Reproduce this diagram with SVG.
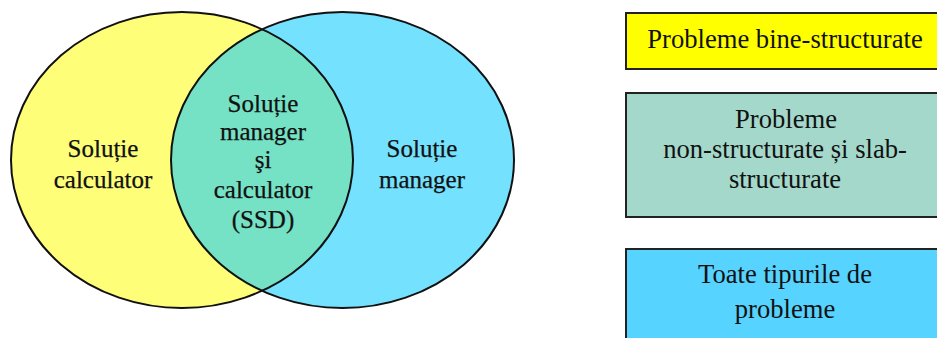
<svg xmlns="http://www.w3.org/2000/svg" width="937" height="338" viewBox="0 0 937 338">
  <style>
    .lbl { font-family: "Liberation Serif", "Times New Roman", serif; fill: #111; text-anchor: middle; }
    .venn { font-size: 25px; stroke: #111; stroke-width: 0.25; }
    .box { font-size: 26.6px; }
    .edge { fill: none; stroke: #111; stroke-width: 2; }
    .rect { stroke: #222; stroke-width: 2; }
  </style>

  <!-- Venn diagram -->
  <g id="calculator">
    <ellipse cx="182" cy="160" rx="171" ry="148" fill="#FEFE78"/>
  </g>
  <g id="manager">
    <ellipse cx="342.5" cy="160" rx="171.5" ry="148" fill="#74E1FE"/>
  </g>
  <g id="ssd">
    <path d="M262,29.3 A171.5,148 0 0 0 262,290.7 A171,148 0 0 0 262,29.3 Z" fill="#75E1C5"/>
  </g>
  <g id="outlines">
    <ellipse class="edge" cx="182" cy="160" rx="171" ry="148"/>
    <ellipse class="edge" cx="342.5" cy="160" rx="171.5" ry="148"/>
  </g>

  <g id="venn-labels">
    <text class="lbl venn" x="103" y="157">Soluție</text>
    <text class="lbl venn" x="103" y="188">calculator</text>

    <text class="lbl venn" x="263" y="112">Soluție</text>
    <text class="lbl venn" x="263" y="140">manager</text>
    <text class="lbl venn" x="263" y="168">şi</text>
    <text class="lbl venn" x="263" y="198">calculator</text>
    <text class="lbl venn" x="263" y="228">(SSD)</text>

    <text class="lbl venn" x="422" y="157">Soluție</text>
    <text class="lbl venn" x="422" y="188">manager</text>
  </g>

  <!-- Legend boxes -->
  <g id="box-bine">
    <rect class="rect" x="626" y="13" width="330" height="56" fill="#FFFF00"/>
    <text class="lbl box" x="785" y="48">Probleme bine-structurate</text>
  </g>
  <g id="box-slab">
    <rect class="rect" x="626" y="93" width="330" height="124" fill="#A3D8CB"/>
    <text class="lbl box" x="786" y="128">Probleme</text>
    <text class="lbl box" x="785" y="158">non-structurate și slab-</text>
    <text class="lbl box" x="785" y="188">structurate</text>
  </g>
  <g id="box-toate">
    <rect class="rect" x="626" y="249" width="330" height="110" fill="#57D3FF"/>
    <text class="lbl box" x="785" y="283">Toate tipurile de</text>
    <text class="lbl box" x="785" y="318">probleme</text>
  </g>
</svg>
